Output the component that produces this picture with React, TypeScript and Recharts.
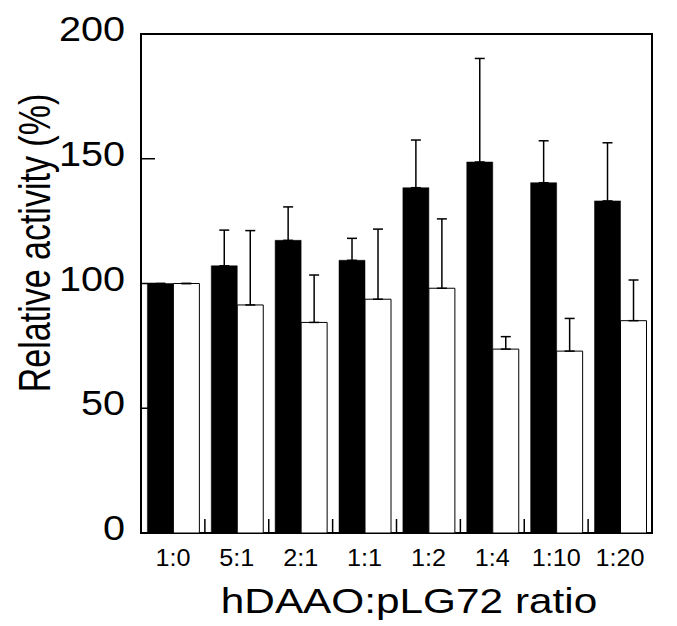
import React from 'react'
import { BarChart, Bar, XAxis, YAxis, ErrorBar, ReferenceArea } from 'recharts'

const ratios = ['1:0', '5:1', '2:1', '1:1', '1:2', '1:4', '1:10', '1:20']
const filledMean = [100, 107.1, 117.3, 109.3, 138.4, 148.7, 140.4, 133.1]
const filledErr = [0, 14.3, 13.4, 8.8, 19.1, 41.5, 16.8, 23.3]
const openMean = [100, 91.4, 84.4, 93.7, 98.1, 73.7, 72.9, 85.1]
const openErr = [0, 29.8, 19.0, 28.1, 27.8, 5.0, 13.1, 16.3]
const yTicks = [0, 50, 100, 150, 200]

const FONT = '"Liberation Sans", Arial, Helvetica, sans-serif'

const data = ratios.map((r, i) => ({
  ratio: r,
  filled: filledMean[i],
  filledErr: [0, filledErr[i]],
  open: openMean[i],
  openErr: [0, openErr[i]],
}))

// y ticks point into the plot; label sits to the left of the axis
function YTick(props: any) {
  const { x, y, payload } = props
  return (
    <g>
      <line x1={x} y1={y} x2={x + 14} y2={y} stroke="#000" strokeWidth={1.5} />
      <text
        transform={`translate(${x - 16},${y + 7}) scale(1.1,1)`}
        textAnchor="end"
        fontSize={36}
        fontFamily={FONT}
        fill="#000"
      >
        {payload.value}
      </text>
    </g>
  )
}

// x ticks mark group boundaries (inward), label centred under each group
function XTick(props: any) {
  const { x, y, payload, index } = props
  const half = payload.offset ?? 31.9
  return (
    <g>
      {index > 0 && <line x1={x - half} y1={y} x2={x - half} y2={y - 14} stroke="#000" strokeWidth={1.5} />}
      <text
        transform={`translate(${x},${y + 33}) scale(1.05,1)`}
        textAnchor="middle"
        fontSize={24}
        fontFamily={FONT}
        fill="#000"
      >
        {payload.value}
      </text>
    </g>
  )
}

export default function App() {
  return (
    <div style={{ position: 'absolute', left: 0, top: 0, width: 677, height: 626, background: '#fff' }}>
      <BarChart
        width={677}
        height={626}
        data={data}
        margin={{ top: 34, right: 25, bottom: 92, left: 140 }}
        barCategoryGap="10%"
        barGap={0}
      >
        <XAxis
          dataKey="ratio"
          height={1}
          tickSize={0}
          tickMargin={0}
          tick={<XTick />}
          axisLine={false}
          interval={0}
        />
        <YAxis
          width={1}
          domain={[0, 200]}
          ticks={yTicks}
          tickSize={0}
          tickMargin={0}
          tick={<YTick />}
          axisLine={false}
        />
        <Bar dataKey="filled" fill="#000" stroke="#000" strokeWidth={0.5} isAnimationActive={false}>
          <ErrorBar dataKey="filledErr" width={5} stroke="#000" strokeWidth={1.5} direction="y" />
        </Bar>
        <Bar dataKey="open" fill="#fff" stroke="#000" strokeWidth={1} isAnimationActive={false}>
          <ErrorBar dataKey="openErr" width={5} stroke="#000" strokeWidth={1.5} direction="y" />
        </Bar>
        <ReferenceArea y1={0} y2={200} fill="none" fillOpacity={0} stroke="#000" strokeWidth={2} />
      </BarChart>
      <svg width={677} height={626} style={{ position: 'absolute', left: 0, top: 0, pointerEvents: 'none' }}>
        <text
          transform="translate(50,243) rotate(-90) scale(1,1.3)"
          textAnchor="middle"
          fontSize={34}
          fontFamily={FONT}
          fill="#000"
        >
          Relative activity (%)
        </text>
        <text
          transform="translate(409,613) scale(1.21,1)"
          textAnchor="middle"
          fontSize={35}
          fontFamily={FONT}
          fill="#000"
        >
          hDAAO:pLG72 ratio
        </text>
      </svg>
    </div>
  )
}
